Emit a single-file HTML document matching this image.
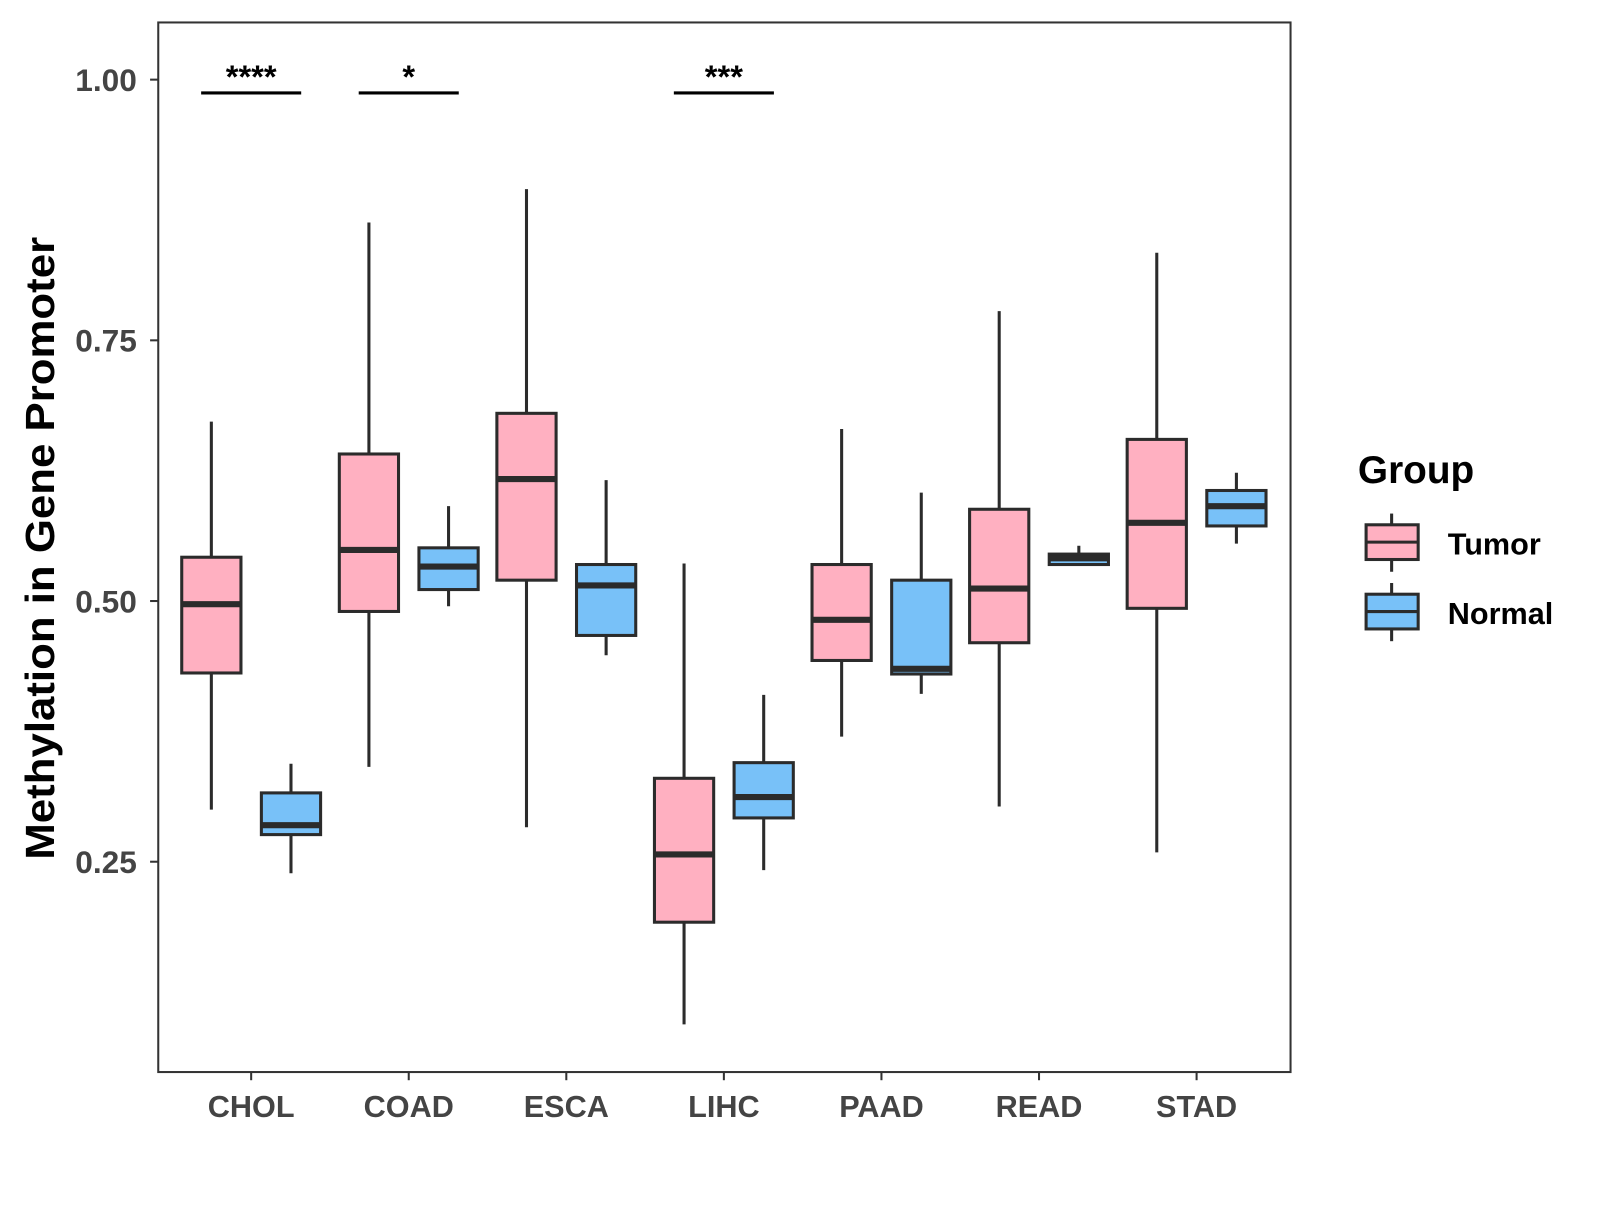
<!DOCTYPE html>
<html><head><meta charset="utf-8"><style>
body{margin:0;background:#fff;font-family:"Liberation Sans",Arial,sans-serif}
</style></head><body>
<svg id="chart" width="1600" height="1200" xmlns="http://www.w3.org/2000/svg">
<rect x="0" y="0" width="1600" height="1200" fill="#fff"/>
<g transform="scale(1.021)">
<rect x="155" y="22" width="1109" height="1028" fill="none" stroke="#333" stroke-width="2"/>
<g id="marks"></g>
<text transform="translate(53,537) rotate(-90)" text-anchor="middle" font-size="40" font-weight="bold" fill="#000" textLength="610" lengthAdjust="spacingAndGlyphs">Methylation in Gene Promoter</text>
<g>
<text x="1330" y="473" font-size="38" font-weight="bold">Group</text>
<g>
<line x1="1363" y1="503" x2="1363" y2="560" stroke="#2b2b2b" stroke-width="3"/>
<rect x="1338" y="514" width="51" height="34" fill="#FFB0C1" stroke="#2b2b2b" stroke-width="3"/>
<line x1="1338" y1="531" x2="1389" y2="531" stroke="#2b2b2b" stroke-width="3"/>
<text x="1418" y="543" font-size="30" font-weight="bold">Tumor</text></g>
<g>
<line x1="1363" y1="571" x2="1363" y2="628" stroke="#2b2b2b" stroke-width="3"/>
<rect x="1338" y="582" width="51" height="34" fill="#78C1F8" stroke="#2b2b2b" stroke-width="3"/>
<line x1="1338" y1="599" x2="1389" y2="599" stroke="#2b2b2b" stroke-width="3"/>
<text x="1418" y="611" font-size="30" font-weight="bold">Normal</text></g>
</g>
</g>
</svg>
<script>
const categories=["CHOL","COAD","ESCA","LIHC","PAAD","READ","STAD"];
const tumorStats=[[0.300,0.431,0.497,0.542,0.672],[0.341,0.490,0.549,0.641,0.863],[0.283,0.520,0.617,0.680,0.895],[0.094,0.192,0.257,0.330,0.536],[0.370,0.443,0.482,0.535,0.665],[0.303,0.460,0.512,0.588,0.778],[0.259,0.493,0.575,0.655,0.834]];
const normalStats=[[0.239,0.276,0.285,0.316,0.344],[0.495,0.511,0.533,0.551,0.591],[0.448,0.467,0.515,0.535,0.616],[0.242,0.292,0.312,0.345,0.410],[0.411,0.430,0.435,0.520,0.604],[0.535,0.535,0.541,0.545,0.553],[0.555,0.572,0.591,0.606,0.623]];
const yTicks=[0.25,0.50,0.75,1.00];
const yTickLabels=["0.25","0.50","0.75","1.00"];
const sigLabels=["****","*","","***","","",""];
const NS="http://www.w3.org/2000/svg";
const g=document.getElementById('marks');
function y(v){return 78+(1-v)*1021.33;}
function x(i){return 246+i*154.33;}
function mk(t,a,p){const e=document.createElementNS(NS,t);for(const k in a)e.setAttribute(k,a[k]);(p||g).appendChild(e);return e;}
yTicks.forEach((t,i)=>{
 const l=mk('line',{x1:147,x2:155,y1:y(t),y2:y(t),stroke:'#333','stroke-width':2});
 
 
 const tx=mk('text',{x:134,y:y(t)+11,'text-anchor':'end','font-size':31,'font-weight':'bold',fill:'#444'});
 tx.textContent=yTickLabels[i];
 
 
});
function box(s,cx,fill,name){
 const w=58,bg=mk('g',{});
 
 
 mk('line',{x1:cx,x2:cx,y1:y(s[4]),y2:y(s[0]),stroke:'#2b2b2b','stroke-width':3},bg);
 mk('rect',{x:cx-w/2,y:y(s[3]),width:w,height:Math.max(y(s[1])-y(s[3]),1),fill:fill,stroke:'#2b2b2b','stroke-width':3},bg);
 mk('line',{x1:cx-w/2,x2:cx+w/2,y1:y(s[2]),y2:y(s[2]),stroke:'#2b2b2b','stroke-width':6},bg);
}
categories.forEach((c,i)=>{
 box(tumorStats[i],x(i)-39,'#FFB0C1','box-tumor-'+c.toLowerCase());
 box(normalStats[i],x(i)+39,'#78C1F8','box-normal-'+c.toLowerCase());
 const tk=mk('line',{x1:x(i),x2:x(i),y1:1050,y2:1058,stroke:'#333','stroke-width':2});
 
 
 const t=mk('text',{x:x(i),y:1094,'text-anchor':'middle','font-size':30,'font-weight':'bold',fill:'#444'});
 t.textContent=c;
 
 
 if(sigLabels[i]){
  const sl=mk('line',{x1:x(i)-49,x2:x(i)+49,y1:91,y2:91,stroke:'#000','stroke-width':3});
  
  
  const st=mk('text',{x:x(i),y:86,'text-anchor':'middle','font-size':32,'font-weight':'bold'});
  st.textContent=sigLabels[i];
  
  
 }
});
</script>
</body></html>
